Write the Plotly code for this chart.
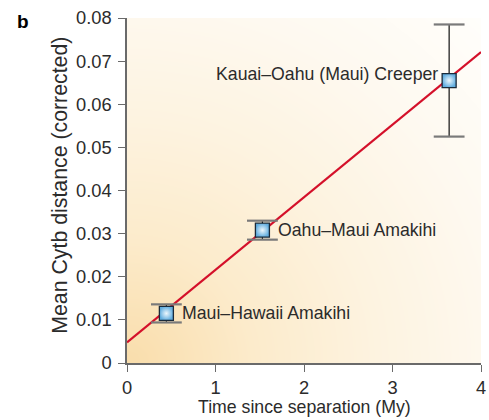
import numpy as np
import plotly.graph_objects as go

# ---- data ----
pair_labels = ["Maui–Hawaii Amakihi", "Oahu–Maui Amakihi", "Kauai–Oahu (Maui) Creeper"]
time_my = [0.445, 1.53, 3.64]
cytb_dist = [0.0115, 0.0308, 0.0655]
cytb_err = [0.0021, 0.0022, 0.0130]
fit_x = [0, 4]
fit_y = [0.0048, 0.0721]

x_ticks = [0, 1, 2, 3, 4]
y_ticks = [0, 0.01, 0.02, 0.03, 0.04, 0.05, 0.06, 0.07, 0.08]
y_tick_text = ["0", "0.01", "0.02", "0.03", "0.04", "0.05", "0.06", "0.07", "0.08"]

FONT = "Liberation Sans, Arial, sans-serif"
TXT = "#2b2b2b"

fig = go.Figure()

# background gradient (style only)
gx = np.linspace(0, 4, 41)
gy = np.linspace(0, 0.08, 41)
U, V = np.meshgrid(gx / 4, gy / 0.08)
Z = np.sqrt(U ** 2 + V ** 2) / np.sqrt(2)
fig.add_trace(go.Heatmap(
    x=gx, y=gy, z=Z, zsmooth="best", showscale=False, hoverinfo="skip",
    colorscale=[[0, "#f9ddab"], [0.25, "#fcebcb"], [0.5, "#fdf3e0"], [0.75, "#fef9f0"], [1, "#fffefb"]],
))

# regression line
fig.add_trace(go.Scatter(x=fit_x, y=fit_y, mode="lines",
                         line=dict(color="#d4102a", width=2.2), hoverinfo="skip"))

# error bar stems
fig.add_trace(go.Scatter(
    x=time_my, y=cytb_dist, mode="markers", marker=dict(size=1, opacity=0),
    error_y=dict(type="data", array=cytb_err, color="#111111", thickness=1.2, width=0),
    hoverinfo="skip"))

# error bar caps
cap_x = time_my + time_my
cap_y = [y + e for y, e in zip(cytb_dist, cytb_err)] + [y - e for y, e in zip(cytb_dist, cytb_err)]
fig.add_trace(go.Scatter(
    x=cap_x, y=cap_y, mode="markers",
    marker=dict(symbol="line-ew", size=22, line=dict(color="#7a7a7a", width=2.2)),
    hoverinfo="skip"))

# points
fig.add_trace(go.Scatter(
    x=time_my, y=cytb_dist, mode="markers",
    marker=dict(symbol="square", size=14, color="#62aee0",
                gradient=dict(type="radial", color="#eef7fc"),
                line=dict(color="#1a2a3a", width=1.3)),
    hoverinfo="skip"))

# point labels
label_pos = [("left", 14, 0), ("left", 14, 0), ("right", -9, 7)]
for lab, x, y, (anc, dx, dy) in zip(pair_labels, time_my, cytb_dist, label_pos):
    fig.add_annotation(x=x, y=y, text=lab, showarrow=False, xanchor=anc, yanchor="middle",
                       xshift=dx, yshift=dy, font=dict(family=FONT, size=17.7, color=TXT))

# panel letter and axis titles
fig.add_annotation(xref="x domain", yref="y domain", x=-0.295, y=0.99, text="<b>b</b>",
                   showarrow=False, xanchor="center", yanchor="middle",
                   font=dict(family=FONT, size=19, color="#000"))
fig.add_annotation(xref="x domain", yref="y domain", x=0.5, y=-0.1275,
                   text="Time since separation (My)", showarrow=False,
                   xanchor="center", yanchor="middle",
                   font=dict(family=FONT, size=17.7, color=TXT))
fig.add_annotation(xref="x domain", yref="y domain", x=-0.19, y=0.516,
                   text="Mean Cytb distance (corrected)", showarrow=False, textangle=-90,
                   xanchor="center", yanchor="middle",
                   font=dict(family=FONT, size=21.3, color=TXT))

axis_common = dict(showgrid=False, zeroline=False, showline=True, linecolor="#6a6a6a", linewidth=1.5,
                   ticks="outside", ticklen=7, tickcolor="#6a6a6a", tickwidth=1.2,
                   automargin=False, ticklabeloverflow="allow",
                   tickfont=dict(family=FONT, size=18.3, color=TXT))

fig.update_layout(
    width=489, height=420,
    margin=dict(l=127, r=8, t=18, b=57),
    paper_bgcolor="white", plot_bgcolor="white",
    showlegend=False,
    xaxis=dict(range=[0, 4], tickvals=x_ticks, **axis_common),
    yaxis=dict(range=[0, 0.08], tickvals=y_ticks, ticktext=y_tick_text,
               ticklabelstandoff=3, **axis_common),
)

fig.write_html("out.html", config={"displayModeBar": False},
               post_script="document.body.style.margin='0';document.body.style.overflow='hidden';")
